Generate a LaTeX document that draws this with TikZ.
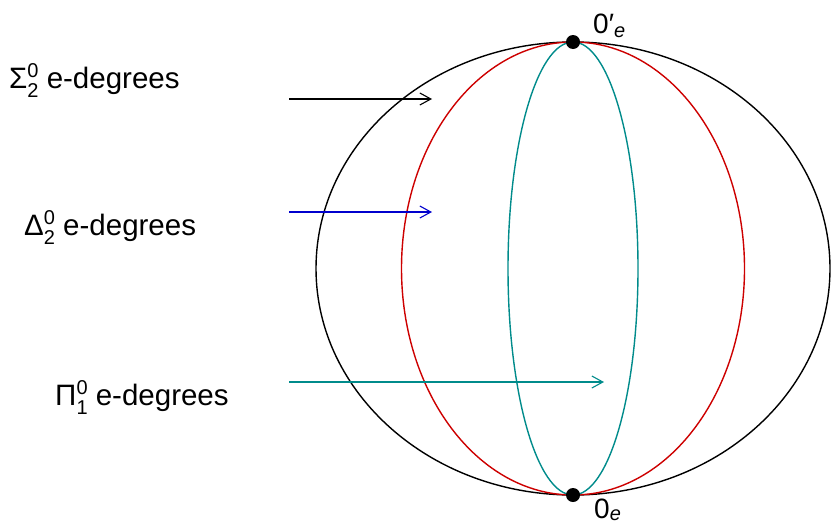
\documentclass[tikz,border=0pt]{standalone}
\usepackage{fontspec}
\setmainfont{Liberation Sans}
\usetikzlibrary{arrows.meta,positioning}
\definecolor{redthree}{RGB}{205,0,0}
\definecolor{bluethree}{RGB}{0,0,205}
\definecolor{cyanfour}{RGB}{0,139,139}
\newcommand{\degclass}[3]{#1\rlap{\raisebox{10.5pt}{\fontsize{20}{20}\selectfont #2}}\raisebox{-9pt}{\fontsize{20}{20}\selectfont #3}}

\begin{document}
\begin{tikzpicture}[x=1pt, y=-1pt,
  classlab/.style={anchor=base west, inner sep=0pt, font=\fontsize{29.5}{35}\selectfont},
  degreelab/.style={anchor=base west, inner sep=0pt, font=\fontsize{28}{34}\selectfont},
  arrow/.style={-{Straight Barb[length=11pt,width=12pt]}, line width=1.1pt},
  curve/.style={line width=1.4pt},
  dot/.style={circle, fill=black, inner sep=0pt, minimum size=14pt}
]
  \useasboundingbox (0,0) rectangle (832,525);

  % Degree classes
  \draw[curve, black] (573,268.5) ellipse [x radius=257, y radius=226.5];
  \draw[curve, redthree] (573,268.5) ellipse [x radius=171.5, y radius=226.5];
  \draw[curve, cyanfour] (573,268.5) ellipse [x radius=65, y radius=226.5];

  % Least and jump degrees
  \node[dot] (top) at (573,42) {};
  \node[dot] (bot) at (573,495) {};
  \node[degreelab] (toplab) at (593,33) {0′\raisebox{-4pt}{\fontsize{20}{20}\selectfont\itshape e}};
  \node[degreelab] (botlab) at (594,518) {0\raisebox{-2.5pt}{\fontsize{20}{20}\selectfont\itshape e}};

  % Labels
  \node[classlab] (sigmalab) at (9,88) {\degclass{Σ}{0}{2} e-degrees};
  \node[classlab] (deltalab) at (24,235) {\degclass{Δ}{0}{2} e-degrees};
  \node[classlab] (pilab) at (55,405) {\degclass{Π}{0}{1} e-degrees};

  % Arrows
  \coordinate (sigmafrom) at (289,99);
  \coordinate (sigmato) at (432,99);
  \coordinate (deltafrom) at (289,212);
  \coordinate (deltato) at (432,212);
  \coordinate (pifrom) at (289,382);
  \coordinate (pito) at (604,382);
  \draw[arrow, black] (sigmafrom) -- (sigmato);
  \draw[arrow, bluethree] (deltafrom) -- (deltato);
  \draw[arrow, cyanfour] (pifrom) -- (pito);
\end{tikzpicture}
\end{document}
